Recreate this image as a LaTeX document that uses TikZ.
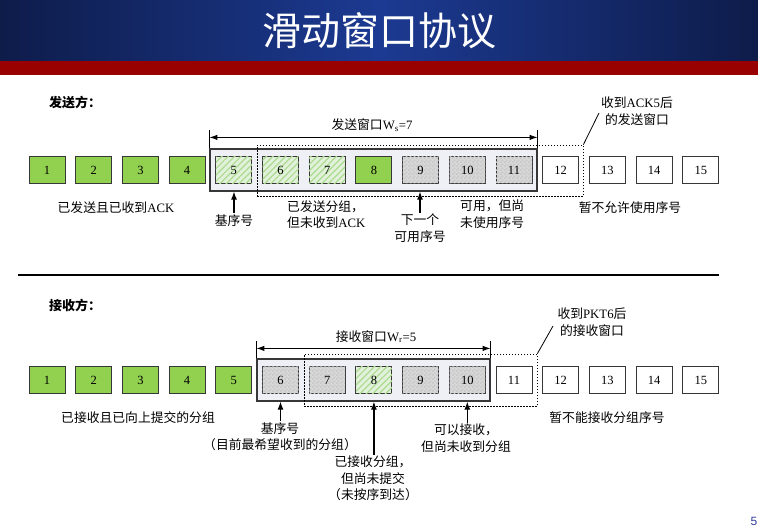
\documentclass[tikz,border=0pt]{standalone}
\usepackage{fontspec}
\setmainfont{Liberation Serif}
\newfontfamily\cjk{Noto Sans CJK SC}
\newfontfamily\pagesans{Liberation Sans}
\usetikzlibrary{arrows.meta,patterns,patterns.meta,fit}
\pgfdeclarepatternformonly{finechecker}{\pgfpointorigin}{\pgfqpoint{4pt}{4pt}}{\pgfqpoint{4pt}{4pt}}{%
  \pgfpathrectangle{\pgfpointorigin}{\pgfqpoint{2pt}{2pt}}%
  \pgfpathrectangle{\pgfqpoint{2pt}{2pt}}{\pgfqpoint{2pt}{2pt}}%
  \pgfusepath{fill}}
\definecolor{navyedge}{RGB}{14,28,74}
\definecolor{navymid}{RGB}{28,58,146}
\definecolor{bandred}{RGB}{153,0,0}
\definecolor{ackgreen}{RGB}{146,208,80}
\definecolor{hatchbg}{RGB}{226,242,218}
\definecolor{hatchln}{RGB}{172,218,146}
\definecolor{chkA}{RGB}{216,216,216}
\definecolor{chkB}{RGB}{200,200,200}
\definecolor{winfill}{RGB}{238,240,245}
\definecolor{boxline}{RGB}{55,55,55}
\definecolor{pgblue}{RGB}{50,60,160}
\tikzset{
  pkt/.style={draw=boxline, line width=0.9pt, minimum width=36pt, minimum height=27pt,
    inner sep=0pt, font=\fontsize{12.5}{14}\selectfont, fill=white},
  acked/.style={fill=ackgreen},
  hatched/.style={fill=hatchbg, postaction={pattern={Lines[angle=45,distance=4.5pt,line width=1.2pt]}, pattern color=hatchln}},
  checker/.style={fill=chkA, postaction={pattern=finechecker, pattern color=chkB}},
  win/.style={draw=boxline, line width=1.2pt, fill=winfill, inner sep=0pt},
  newwin/.style={draw=black, line width=0.8pt, dash pattern=on 1.5pt off 1.5pt},
  lbl/.style={font=\cjk\fontsize{12.8}{16.5}\selectfont, inner sep=1pt, align=center},
  head/.style={font=\cjk\bfseries\fontsize{13}{16}\selectfont, inner sep=0pt, anchor=west},
  arr/.style={-{Latex[length=8pt,width=6pt]}, line width=1.2pt},
  dimarr/.style={{Latex[length=8pt,width=5.5pt]}-{Latex[length=8pt,width=5.5pt]}, line width=1pt},
}
\begin{document}
\begin{tikzpicture}[x=1pt,y=-1pt]
\useasboundingbox (0,0) rectangle (758,531);
% header
\shade[left color=navyedge, right color=navyedge, middle color=navymid] (0,0) rectangle (758,61);
\fill[bandred] (0,61) rectangle (758,75);
\node[font=\cjk\fontsize{39}{42}\selectfont, text=white, inner sep=0pt] (title) at (379,31) {滑动窗口协议};

% ================= sender =================
\node[head] (shead) at (49,103) {发送方：};
\node[win, fit={(210,149) (537,191)}] (sw) {};
\draw[line width=1.2pt] (sw.north west) -- ++(0,-18) coordinate (swl);
\draw[line width=1.2pt] (sw.north east) -- ++(0,-18) coordinate (swr);
\draw[dimarr] ([yshift=-7pt]swl) -- ([yshift=-7pt]swr);
\node[lbl, anchor=south] (swlbl) at (372,133) {发送窗口{\fontfamily{\rmdefault}\selectfont W\textsubscript{s}=7}};

\foreach \i in {1,...,4} \node[pkt,acked] (s\i) at ({47+(\i-1)*46.7},170) {\i};
\foreach \i in {5,6,7} \node[pkt,hatched] (s\i) at ({47+(\i-1)*46.7},170) {\i};
\node[pkt,acked] (s8) at ({47+7*46.7},170) {8};
\foreach \i in {9,10,11} \node[pkt,checker] (s\i) at ({47+(\i-1)*46.7},170) {\i};
\foreach \i in {12,...,15} \node[pkt] (s\i) at ({47+(\i-1)*46.7},170) {\i};

\node[newwin, fit={(257,145) (583,196)}, inner sep=0pt] (snw) {};
\coordinate (snwtip) at (599,113);
\draw[line width=0.8pt] (snw.north east) -- (snwtip);
\node[lbl] (snwlbl) at (637,111) {收到{\fontfamily{\rmdefault}\selectfont ACK5}后\\的发送窗口};

\node[lbl] (sacked) at (116,208) {已发送且已收到{\fontfamily{\rmdefault}\selectfont ACK}};
\node[lbl, anchor=north] (sbase) at (234,213) {基序号};
\draw[arr] (sbase.north) -- (sbase.north |- sw.south) ;
\node[lbl, align=left, anchor=north west] (sunack) at (286,199) {已发送分组，\\但未收到{\fontfamily{\rmdefault}\selectfont ACK}};
\node[lbl, anchor=north] (snext) at (420,213) {下一个\\可用序号};
\draw[arr] (snext.north) -- (snext.north |- sw.south);
\node[lbl, align=left, anchor=north west] (susable) at (459,199) {可用，但尚\\未使用序号};
\node[lbl] (snot) at (630,208) {暂不允许使用序号};

% separator
\draw[line width=1.3pt] (18,275) coordinate (sepl) -- (719,275) coordinate (sepr);

% ================= receiver =================
\node[head] (rhead) at (49,305) {接收方：};
\node[win, fit={(257,359) (490,401)}] (rw) {};
\draw[line width=1.2pt] (rw.north west) -- ++(0,-17) coordinate (rwl);
\draw[line width=1.2pt] (rw.north east) -- ++(0,-17) coordinate (rwr);
\draw[dimarr] ([yshift=-7pt]rwl) -- ([yshift=-7pt]rwr);
\node[lbl, anchor=south] (rwlbl) at (376,344) {接收窗口{\fontfamily{\rmdefault}\selectfont W\textsubscript{r}=5}};

\foreach \i in {1,...,5} \node[pkt,acked] (r\i) at ({47+(\i-1)*46.7},380) {\i};
\foreach \i in {6,7} \node[pkt,checker] (r\i) at ({47+(\i-1)*46.7},380) {\i};
\node[pkt,hatched] (r8) at ({47+7*46.7},380) {8};
\foreach \i in {9,10} \node[pkt,checker] (r\i) at ({47+(\i-1)*46.7},380) {\i};
\foreach \i in {11,...,15} \node[pkt] (r\i) at ({47+(\i-1)*46.7},380) {\i};

\node[newwin, fit={(304,354) (537,406)}, inner sep=0pt] (rnw) {};
\coordinate (rnwtip) at (553,326);
\draw[line width=0.8pt] (rnw.north east) -- (rnwtip);
\node[lbl] (rnwlbl) at (592,322) {收到{\fontfamily{\rmdefault}\selectfont PKT6}后\\的接收窗口};

\node[lbl] (racked) at (138,418) {已接收且已向上提交的分组};
\node[lbl, anchor=north] (rbase) at (280,421) {基序号\\（目前最希望收到的分组）};
\draw[arr] (rbase.north -| r6) -- (r6 |- rw.south);
\node[lbl, anchor=north] (rbuf) at (373,455) {已接收分组，\\但尚未提交\\（未按序到达）};
\draw[arr] (rbuf.north -| r8) -- (r8 |- rw.south);
\node[lbl, anchor=north] (rok) at (466,423) {可以接收，\\但尚未收到分组};
\draw[arr] (rok.north -| r10) -- (r10 |- rw.south);
\node[lbl] (rnot) at (607,418) {暂不能接收分组序号};

\node[font=\pagesans\fontsize{12}{14}\selectfont, text=pgblue, inner sep=0pt] (pgnum) at (754,521) {5};
\end{tikzpicture}
\end{document}
